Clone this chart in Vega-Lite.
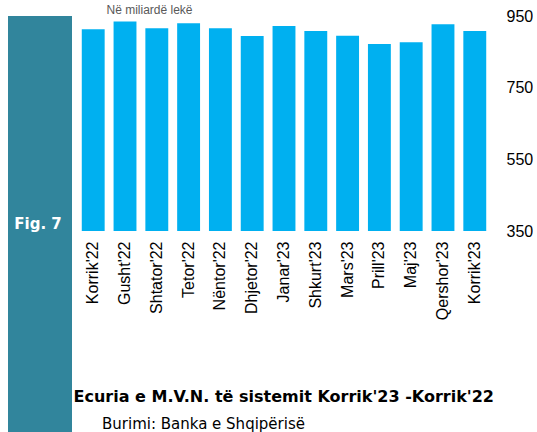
{
  "$schema": "https://vega.github.io/schema/vega-lite/v6.json",
  "padding": {"left": 8, "top": 3, "right": 0, "bottom": 0},
  "spacing": 5,
  "bounds": "flush",
  "background": "white",
  "config": {"view": {"stroke": null}},
  "hconcat": [
    {
      "width": 64,
      "height": 416,
      "view": {"fill": "#31859C", "stroke": null},
      "data": {"values": [{"label": "Fig. 7"}]},
      "mark": {"type": "text", "color": "white", "font": "DejaVu Sans", "fontWeight": "bold", "fontSize": 15, "align": "center", "baseline": "middle", "dx": -2},
      "encoding": {"text": {"field": "label", "type": "nominal"}}
    },
    {
      "width": 414,
      "height": 215,
      "title": {"text": "Burimi: Banka e Shqipërisë", "orient": "bottom", "anchor": "start", "dx": 29, "offset": 25, "baseline": "alphabetic", "font": "DejaVu Sans", "fontSize": 15, "fontWeight": "normal", "color": "#000000"},
      "data": {"values": [
        {"muaji": "Korrik'22", "vlera": 913},
        {"muaji": "Gusht'22", "vlera": 935},
        {"muaji": "Shtator'22", "vlera": 916},
        {"muaji": "Tetor'22", "vlera": 930},
        {"muaji": "Nëntor'22", "vlera": 916},
        {"muaji": "Dhjetor'22", "vlera": 894},
        {"muaji": "Janar'23", "vlera": 922},
        {"muaji": "Shkurt'23", "vlera": 908},
        {"muaji": "Mars'23", "vlera": 895},
        {"muaji": "Prill'23", "vlera": 872},
        {"muaji": "Maj'23", "vlera": 877},
        {"muaji": "Qershor'23", "vlera": 927},
        {"muaji": "Korrik'23", "vlera": 908}
      ]},
      "mark": {"type": "bar", "color": "#00B0F0"},
      "encoding": {
        "x": {
          "field": "muaji", "type": "nominal", "sort": null,
          "scale": {"paddingInner": 0.28, "paddingOuter": 0.15},
          "axis": {
            "labelAngle": -90, "labelFont": "Liberation Sans", "labelFontSize": 16, "labelColor": "#000000",
            "ticks": false, "domain": false, "labelPadding": 10,
            "title": "Ecuria e M.V.N. të sistemit Korrik'23 -Korrik'22",
            "titleFont": "DejaVu Sans", "titleFontWeight": "bold", "titleFontSize": 16, "titleColor": "#000000",
            "titleAlign": "left", "titleAnchor": "start", "titleX": -4, "titleY": 170, "titleBaseline": "alphabetic"
          }
        },
        "y": {
          "field": "vlera", "type": "quantitative",
          "scale": {"domain": [350, 950], "nice": false, "zero": false},
          "axis": {
            "orient": "right", "values": [350, 550, 750, 950], "grid": false, "ticks": false, "domain": false,
            "labelFont": "Liberation Sans", "labelFontSize": 16, "labelColor": "#000000", "labelPadding": 15,
            "title": "Në miliardë lekë", "titleAngle": 0, "titleAlign": "left", "titleBaseline": "alphabetic",
            "titleX": -385, "titleY": -3, "titleFont": "Liberation Sans", "titleFontSize": 12, "titleFontWeight": "normal", "titleColor": "#595959"
          }
        },
        "y2": {"datum": 350}
      }
    }
  ]
}
